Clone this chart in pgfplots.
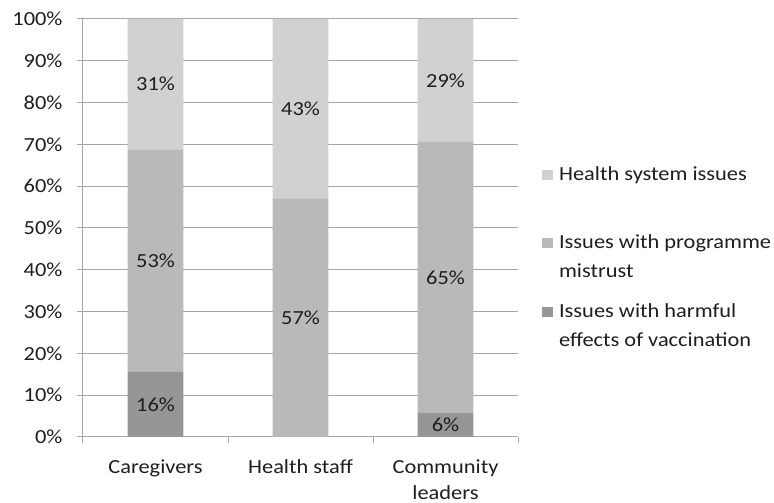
\documentclass[border=0pt]{standalone}
\usepackage{fontspec}
\setmainfont{Carlito}[FakeStretch=1.12]
\usepackage{pgfplots}
\usepackage{pgfplotstable}
\pgfplotsset{compat=1.18}

\definecolor{cLight}{RGB}{208,209,209}
\definecolor{cMid}{RGB}{185,185,185}
\definecolor{cDark}{RGB}{150,150,150}
\definecolor{cGrid}{RGB}{166,166,166}
\definecolor{cText}{RGB}{30,30,30}

% shares of each group, bottom segment first
\pgfplotstableread{
x v
0 15.6
1 0.0
2 5.8
}\harmful
\pgfplotstableread{
x v
0 53.1
1 57.1
2 64.8
}\mistrust
\pgfplotstableread{
x v
0 31.3
1 42.9
2 29.4
}\system
% value labels, at the middle of each segment
\pgfplotstableread{
x m lab
0 7.8 16\%
0 42.2 53\%
0 84.4 31\%
1 28.6 57\%
1 78.6 43\%
2 2.9 6\%
2 38.2 65\%
2 85.3 29\%
}\labels

\begin{document}
\begin{tikzpicture}
\path[use as bounding box] (0,0) rectangle (774pt,503pt);
\begin{axis}[
    at={(83pt,66pt)}, anchor=south west,
    scale only axis,
    width=435pt, height=418pt,
    ybar stacked,
    bar width=0.386,
    xmin=-0.5, xmax=2.5,
    ymin=0, ymax=100,
    axis x line*=bottom,
    axis y line*=left,
    axis line style={cGrid, line width=1pt},
    xtick={0,1,2},
    xticklabels={Caregivers, Health staff, {Community\\leaders}},
    major x tick style={draw=none},
    minor xtick={-0.5,0.5,1.5,2.5},
    minor x tick style={cGrid, line width=1pt},
    minor tick length=6pt,
    ytick distance=10,
    yticklabel={\pgfmathprintnumber{\tick}\%},
    y tick style={cGrid, line width=1pt},
    major tick length=6pt,
    tick align=outside,
    ymajorgrids,
    grid style={cGrid, line width=1pt},
    /pgf/number format/assume math mode=true,
    tick label style={font=\fontsize{20}{26}\selectfont, text=cText},
    x tick label style={align=center, yshift=-13pt},
    y tick label style={xshift=-11pt},
    legend style={draw=none, fill=none,
        at={(1.048,0.652)}, anchor=north west,
        font=\fontsize{20}{29}\selectfont, text=cText,
        nodes={align=left, inner sep=0pt},
        column sep=6pt,
        row sep=24pt},
    legend cell align=left,
    reverse legend,
    legend image code/.code={\fill[#1, draw=none] (0pt,9pt) rectangle (11pt,19pt);},
]
\addplot[fill=cDark, draw=none] table[x=x, y=v] {\harmful};
\addlegendentry{Issues with harmful\\effects of vaccination}
\addplot[fill=cMid, draw=none] table[x=x, y=v] {\mistrust};
\addlegendentry{Issues with programme\\mistrust}
\addplot[fill=cLight, draw=none] table[x=x, y=v] {\system};
\addlegendentry{Health system issues\\\mbox{}}
\end{axis}
\begin{axis}[
    at={(83pt,66pt)}, anchor=south west,
    scale only axis,
    width=435pt, height=418pt,
    xmin=-0.5, xmax=2.5,
    ymin=0, ymax=100,
    hide axis,
]
\addplot[draw=none, mark=none, nodes near coords, point meta=explicit symbolic,
    every node near coord/.append style={anchor=center,
        font=\fontsize{20}{24}\selectfont, text=cText}]
    table[x=x, y=m, meta=lab] {\labels};
\end{axis}
\end{tikzpicture}
\end{document}
